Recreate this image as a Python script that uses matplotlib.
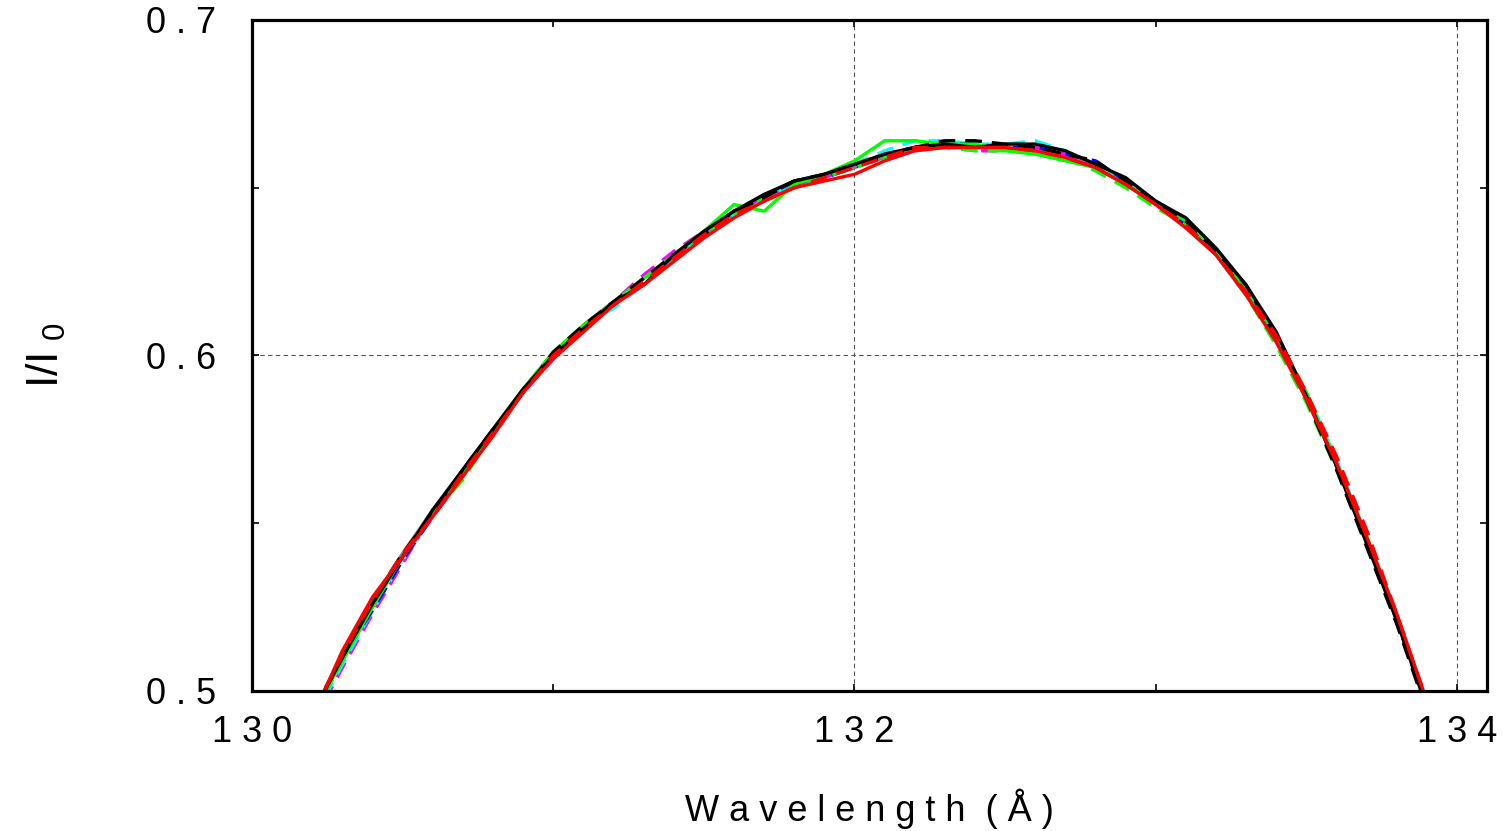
import numpy as np
import matplotlib
matplotlib.use("Agg")
import matplotlib.pyplot as plt
from matplotlib.ticker import MultipleLocator, FixedLocator

plt.rcParams['font.family'] = ['Liberation Sans', 'DejaVu Sans']
plt.rcParams['mathtext.default'] = 'regular'

# wavelength grid (Angstrom)
wl = [130.2, 130.3, 130.4, 130.5, 130.6, 130.7, 130.8, 130.9, 131.0, 131.1,
      131.2, 131.3, 131.4, 131.5, 131.6, 131.7, 131.8, 131.9, 132.0, 132.1,
      132.2, 132.3, 132.4, 132.5, 132.6, 132.7, 132.8, 132.9, 133.0, 133.1,
      133.2, 133.3, 133.4, 133.5, 133.6, 133.7, 133.8, 133.9]

y_gray = [0.492, 0.510, 0.527, 0.541, 0.554, 0.565, 0.577, 0.589, 0.600, 0.608,
          0.615, 0.623, 0.629, 0.636, 0.642, 0.647, 0.651, 0.653, 0.656, 0.659,
          0.661, 0.662, 0.662, 0.662, 0.661, 0.660, 0.656, 0.651, 0.645, 0.639,
          0.630, 0.619, 0.605, 0.588, 0.568, 0.545, 0.522, 0.496]
y_magenta = [0.490, 0.507, 0.523, 0.538, 0.553, 0.566, 0.578, 0.589, 0.599, 0.609,
             0.616, 0.624, 0.631, 0.637, 0.643, 0.647, 0.651, 0.653, 0.657, 0.660,
             0.662, 0.663, 0.661, 0.661, 0.662, 0.660, 0.657, 0.652, 0.645, 0.640,
             0.631, 0.619, 0.605, 0.587, 0.568, 0.545, 0.522, 0.496]
y_cyan = [0.491, 0.508, 0.524, 0.539, 0.552, 0.565, 0.577, 0.589, 0.600, 0.609,
          0.614, 0.621, 0.628, 0.637, 0.642, 0.646, 0.652, 0.654, 0.657, 0.661,
          0.664, 0.664, 0.663, 0.663, 0.664, 0.661, 0.657, 0.652, 0.646, 0.641,
          0.632, 0.620, 0.604, 0.589, 0.569, 0.546, 0.523, 0.497]
y_blue = [0.492, 0.510, 0.524, 0.539, 0.552, 0.564, 0.577, 0.589, 0.600, 0.609,
          0.615, 0.622, 0.630, 0.636, 0.643, 0.647, 0.652, 0.653, 0.656, 0.660,
          0.662, 0.663, 0.663, 0.662, 0.662, 0.660, 0.658, 0.652, 0.645, 0.639,
          0.630, 0.620, 0.606, 0.588, 0.567, 0.545, 0.521, 0.495]
y_green = [0.493, 0.509, 0.525, 0.540, 0.553, 0.564, 0.578, 0.590, 0.601, 0.609,
           0.616, 0.623, 0.630, 0.637, 0.645, 0.643, 0.651, 0.654, 0.658, 0.664,
           0.664, 0.663, 0.663, 0.661, 0.660, 0.658, 0.656, 0.651, 0.646, 0.640,
           0.631, 0.620, 0.606, 0.589, 0.568, 0.546, 0.522, 0.496]
y_green_dash = [0.492, 0.509, 0.526, 0.540, 0.553, 0.563, 0.577, 0.590, 0.601, 0.609,
                0.616, 0.622, 0.630, 0.636, 0.642, 0.647, 0.650, 0.653, 0.656, 0.659,
                0.662, 0.662, 0.661, 0.661, 0.661, 0.659, 0.655, 0.650, 0.644, 0.639,
                0.630, 0.618, 0.603, 0.586, 0.566, 0.544, 0.521, 0.495]
y_black = [0.493, 0.510, 0.526, 0.540, 0.554, 0.566, 0.578, 0.590, 0.600, 0.608,
           0.616, 0.621, 0.630, 0.637, 0.643, 0.648, 0.652, 0.654, 0.657, 0.660,
           0.662, 0.663, 0.662, 0.663, 0.663, 0.661, 0.657, 0.653, 0.646, 0.641,
           0.632, 0.621, 0.607, 0.588, 0.567, 0.544, 0.521, 0.495]
y_black_dash = [0.494, 0.510, 0.527, 0.541, 0.553, 0.566, 0.578, 0.589, 0.601, 0.609,
                0.616, 0.623, 0.630, 0.636, 0.643, 0.647, 0.652, 0.654, 0.657, 0.659,
                0.662, 0.664, 0.664, 0.663, 0.662, 0.660, 0.658, 0.652, 0.646, 0.640,
                0.631, 0.621, 0.605, 0.587, 0.566, 0.543, 0.520, 0.494]
y_red_dash = [0.493, 0.511, 0.527, 0.541, 0.552, 0.565, 0.577, 0.589, 0.600, 0.608,
              0.615, 0.622, 0.629, 0.636, 0.642, 0.646, 0.650, 0.653, 0.656, 0.659,
              0.662, 0.662, 0.662, 0.662, 0.661, 0.659, 0.656, 0.651, 0.645, 0.639,
              0.630, 0.619, 0.606, 0.589, 0.570, 0.548, 0.523, 0.497]
y_red = [0.492, 0.512, 0.528, 0.540, 0.552, 0.564, 0.576, 0.589, 0.599, 0.607,
         0.615, 0.621, 0.628, 0.635, 0.641, 0.646, 0.650, 0.652, 0.654, 0.658,
         0.661, 0.662, 0.662, 0.662, 0.661, 0.659, 0.656, 0.651, 0.645, 0.638,
         0.630, 0.618, 0.604, 0.587, 0.568, 0.546, 0.523, 0.497]

x_ticks = [130, 132, 134]
x_tick_labels = ['1 3 0', '1 3 2', '1 3 4']
y_ticks = [0.5, 0.6, 0.7]
y_tick_labels = ['0 . 5', '0 . 6', '0 . 7']

fig = plt.figure(figsize=(15.03, 8.31), dpi=100)
ax = fig.add_axes([0.1677, 0.1685, 0.8217, 0.8075])

lw = 2.4
dash = (0, (5, 3))
ax.plot(wl, y_gray, color='#808080', lw=lw)
ax.plot(wl, y_magenta, color='#ff00ff', lw=lw, ls=dash)
ax.plot(wl, y_cyan, color='#00ffff', lw=lw, ls=dash)
ax.plot(wl, y_blue, color='#0000ff', lw=lw, ls=dash)
ax.plot(wl, y_green, color='#00ff00', lw=lw)
ax.plot(wl, y_green_dash, color='#00ff00', lw=lw, ls=dash)
ax.plot(wl, y_black, color='black', lw=lw)
ax.plot(wl, y_black_dash, color='black', lw=lw, ls=dash)
ax.plot(wl, y_red_dash, color='#ff0000', lw=lw, ls=dash)
ax.plot(wl, y_red, color='#ff0000', lw=lw)

ax.set_xlim(130, 134.1)
ax.set_ylim(0.5, 0.7)
ax.xaxis.set_major_locator(FixedLocator(x_ticks))
ax.xaxis.set_minor_locator(MultipleLocator(1))
ax.yaxis.set_major_locator(FixedLocator(y_ticks))
ax.yaxis.set_minor_locator(MultipleLocator(0.05))
ax.set_xticklabels(x_tick_labels)
ax.set_yticklabels(y_tick_labels)

ax.grid(True, which='major', color='#555555', ls=(0, (4, 3)), lw=0.8)
ax.tick_params(which='both', direction='in', top=True, right=True,
               length=5, width=1.2, labelsize=26)
ax.tick_params(axis='x', pad=17)
ax.tick_params(axis='y', pad=26)
for s in ax.spines.values():
    s.set_linewidth(2.3)

ax.set_xlabel('W a v e l e n g t h  ( Å )', fontsize=26, labelpad=28)
ax.set_ylabel('I/I$_{\\ 0}$', fontsize=32, labelpad=56)

fig.savefig('out.png', dpi=100)
